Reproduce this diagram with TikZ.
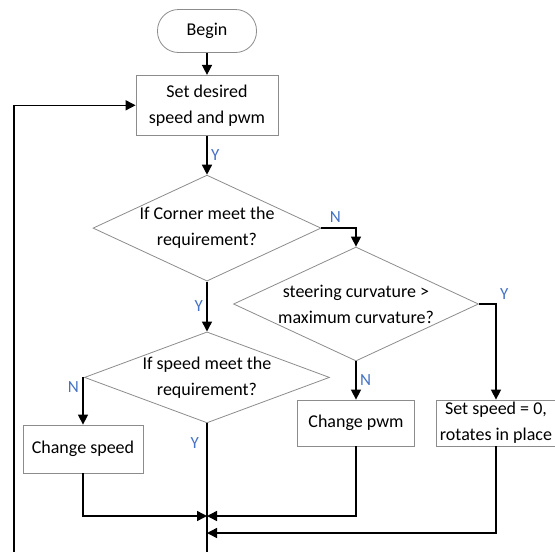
\documentclass[tikz,border=0pt]{standalone}
\usepackage{fontspec}
\setmainfont{Carlito}
\usetikzlibrary{positioning}
\usetikzlibrary{arrows.meta}
\usetikzlibrary{shapes.geometric}
\definecolor{boxgray}{HTML}{8C8C8C}
\definecolor{labelblue}{HTML}{4472C4}
\tikzset {
  % text of all nodes
  every node/.style={font=\fontsize{18}{26}\selectfont},
  % start terminal
  term/.style={draw=boxgray, line width=0.8pt, rounded corners=21pt, minimum width=99pt, minimum height=43pt},
  % process boxes
  proc/.style={draw=boxgray, line width=0.8pt, align=center, inner sep=1pt},
  % decision diamonds
  decide/.style={draw=boxgray, line width=0.8pt, diamond, align=center, inner sep=0pt},
  % connectors
  flow/.style={draw, line width=1.5pt, -{Triangle[length=10pt,width=10pt]}},
  plain/.style={draw, line width=1.5pt},
  % yes / no labels
  yn/.style={text=labelblue, font=\fontsize{17}{20}\selectfont},
}
\begin{document}
\begin{tikzpicture}[x=1pt, y=1pt]
        \useasboundingbox (0,0) rectangle (555,-552);

        \node[term] (begin) at (207,-31) {Begin};
        \node[proc, minimum width=142pt, minimum height=60pt] (setup) [below=22pt of begin] {Set desired\\speed and pwm};
        \node[decide, minimum width=228pt, minimum height=106pt, aspect=2.15] (corner) [below=39pt of setup] {If Corner meet the\\requirement?};
        \node[decide, minimum width=245pt, minimum height=91pt, aspect=2.7] (speedq) [below=50pt of corner] {If speed meet the\\requirement?};
        \node[decide, minimum width=245pt, minimum height=114pt, aspect=2.15] (curv) at (356,-304) {steering curvature >\\maximum curvature?};
        \node[proc, minimum width=120pt, minimum height=48pt] (speed) at (83,-449) {Change speed};
        \node[proc, minimum width=117pt, minimum height=46pt] (pwm) at (356,-423) {Change pwm};
        \node[proc, minimum width=120pt, minimum height=46pt] (stop) at (496,-423) {Set speed = 0,\\rotates in place};

        \coordinate (bottom) at (207,-552);
        \coordinate (join1) at (207,-516);
        \coordinate (join2) at (207,-533);
        \coordinate (loop) at (14,-552);

        \draw [flow] (begin) -- (setup);
        \draw [flow] (setup) -- node[yn, right] {Y} (corner);
        \draw [flow] (corner.east) -| node[yn, pos=0.2, above, yshift=2pt] {N} (curv.north);
        \draw [flow] (corner) -- node[yn, left] {Y} (speedq);
        \draw [flow] (curv.east) -| node[yn, pos=0.5, above right] {Y} (stop.north);
        \draw [flow] (curv) -- node[yn, right] {N} (pwm);
        \draw [flow] (speedq.west) -| node[yn, pos=0.6, left] {N} (speed.north);
        \draw [plain] (speedq.south) -- node[yn, pos=0.15, left, xshift=-4pt] {Y} (bottom);
        \draw [flow] (speed.south) |- (join1);
        \draw [flow] (pwm.south) |- (join1);
        \draw [flow] (stop.south) |- (join2);
        \draw [flow] (loop) |- (setup.west);
      \end{tikzpicture}
\end{document}
